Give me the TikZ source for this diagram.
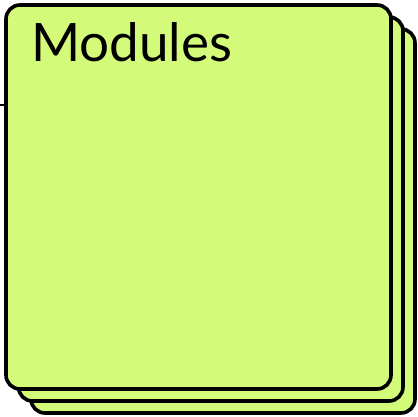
\documentclass[tikz,border=0pt]{standalone}
\usepackage{fontspec}
\setmainfont{Lato}
\definecolor{sheet}{RGB}{212,250,122}
\begin{document}
\begin{tikzpicture}[x=1pt,y=-1pt,
  sheetbox/.style={draw=black, line width=3.6pt, fill=sheet, rounded corners=14pt}]
\useasboundingbox (0,0) rectangle (417,417);
\draw[sheetbox] (31,29) rectangle (415,413);
\draw[sheetbox] (18.5,17) rectangle (403,401);
\draw[sheetbox] (6,5) rectangle (391,389);
\node[anchor=base west, inner sep=0pt, font=\fontsize{53}{60}\selectfont] (title) at (31,62) {Modules};
\draw[line width=1.5pt] (0,105) -- (4,105);
\end{tikzpicture}
\end{document}
